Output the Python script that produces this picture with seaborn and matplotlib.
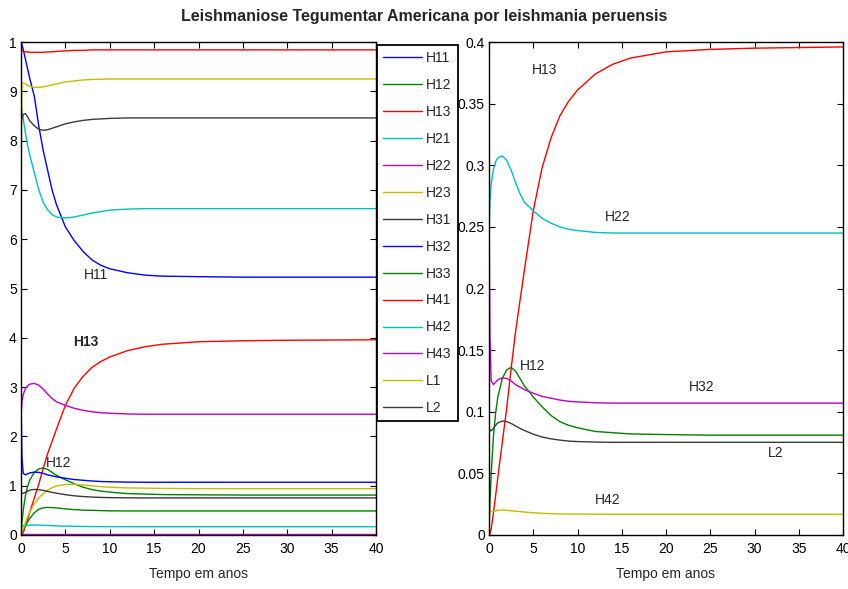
import numpy as np
import pandas as pd
import matplotlib
matplotlib.use("Agg")
import matplotlib.pyplot as plt
import seaborn as sns
from matplotlib import font_manager

# ---------------- data ----------------
times = [0, 0.1, 0.25, 0.5, 0.75, 1, 1.5, 2, 2.5, 3, 3.5, 4, 5, 6, 7, 8, 9, 10,
         12, 14, 16, 20, 25, 30, 40]

H11 = [1.0, 0.995, 0.985, 0.965, 0.945, 0.925, 0.89, 0.83, 0.78, 0.74, 0.70, 0.67,
       0.625, 0.597, 0.575, 0.558, 0.547, 0.54, 0.532, 0.527, 0.525, 0.524, 0.523, 0.523, 0.523]
H12 = [0, 0.025, 0.05, 0.08, 0.099, 0.112, 0.127, 0.134, 0.136, 0.133, 0.127, 0.121,
       0.112, 0.104, 0.097, 0.092, 0.089, 0.087, 0.084, 0.083, 0.082, 0.0815, 0.081, 0.081, 0.081]
H13 = [0, 0.001, 0.005, 0.018, 0.032, 0.047, 0.075, 0.103, 0.135, 0.165, 0.19, 0.215,
       0.263, 0.298, 0.322, 0.340, 0.352, 0.361, 0.374, 0.382, 0.387, 0.392, 0.394, 0.395, 0.396]
H21 = [0.87, 0.86, 0.845, 0.815, 0.79, 0.77, 0.735, 0.70, 0.675, 0.66, 0.65, 0.645,
       0.643, 0.645, 0.649, 0.653, 0.656, 0.659, 0.661, 0.662, 0.662, 0.662, 0.662, 0.662, 0.662]
H22 = [0.24, 0.27, 0.285, 0.297, 0.303, 0.306, 0.3075, 0.304, 0.296, 0.286, 0.277, 0.270,
       0.263, 0.257, 0.253, 0.250, 0.248, 0.247, 0.2455, 0.245, 0.245, 0.245, 0.245, 0.245, 0.245]
H23 = [0.68, 0.915, 0.917, 0.915, 0.912, 0.910, 0.908, 0.908, 0.909, 0.911, 0.913, 0.915,
       0.919, 0.921, 0.923, 0.924, 0.9245, 0.925, 0.925, 0.925, 0.925, 0.925, 0.925, 0.925, 0.925]
H31 = [0.83, 0.845, 0.853, 0.855, 0.848, 0.84, 0.83, 0.823, 0.821, 0.822, 0.825, 0.828,
       0.834, 0.838, 0.841, 0.843, 0.844, 0.845, 0.846, 0.846, 0.846, 0.846, 0.846, 0.846, 0.846]
H32 = [0.28, 0.16, 0.125, 0.122, 0.124, 0.126, 0.1275, 0.127, 0.125, 0.122, 0.120, 0.118,
       0.115, 0.1125, 0.111, 0.1095, 0.1085, 0.108, 0.1073, 0.107, 0.107, 0.107, 0.107, 0.107, 0.107]
H33 = [0, 0.005, 0.011, 0.019, 0.027, 0.034, 0.045, 0.052, 0.055, 0.056, 0.0555, 0.055,
       0.053, 0.0515, 0.0505, 0.050, 0.0495, 0.049, 0.0488, 0.0488, 0.0488, 0.0488, 0.0488, 0.0488, 0.0488]
H41 = [0.99, 0.982, 0.981, 0.980, 0.980, 0.979, 0.979, 0.979, 0.979, 0.980, 0.980, 0.981,
       0.982, 0.983, 0.983, 0.984, 0.984, 0.984, 0.984, 0.984, 0.984, 0.984, 0.984, 0.984, 0.984]
H42 = [0.030, 0.019, 0.0188, 0.019, 0.0195, 0.020, 0.0203, 0.020, 0.0197, 0.0193, 0.019, 0.0186,
       0.018, 0.0176, 0.0173, 0.0171, 0.017, 0.017, 0.0169, 0.0168, 0.0168, 0.0168, 0.0168, 0.0168, 0.0168]
H43 = [0.002, 0.002, 0.002, 0.002, 0.002, 0.002, 0.002, 0.002, 0.002, 0.002, 0.002, 0.002,
       0.002, 0.002, 0.002, 0.002, 0.002, 0.002, 0.002, 0.002, 0.002, 0.002, 0.002, 0.002, 0.002]
L1 = [0, 0.004, 0.012, 0.025, 0.037, 0.047, 0.063, 0.075, 0.084, 0.091, 0.096, 0.0995,
      0.1025, 0.103, 0.1015, 0.0995, 0.098, 0.097, 0.0955, 0.095, 0.0945, 0.094, 0.094, 0.094, 0.094]
L2 = [0.088, 0.085, 0.0845, 0.0865, 0.089, 0.091, 0.0925, 0.092, 0.0905, 0.0885, 0.0865, 0.0848,
      0.0818, 0.0795, 0.078, 0.077, 0.0762, 0.0758, 0.0754, 0.0752, 0.0752, 0.0752, 0.0752, 0.0752, 0.0752]

left_names = ["H11", "H12", "H13", "H21", "H22", "H23", "H31", "H32", "H33",
              "H41", "H42", "H43", "L1", "L2"]
left_series = [H11, H12, H13, H21, H22, H23, H31, H32, H33, H41, H42, H43, L1, L2]
right_names = ["H12", "H13", "H22", "H32", "H42", "L2"]
right_series = [H12, H13, H22, H32, H42, L2]

left_yticks = [0, 0.1, 0.2, 0.3, 0.4, 0.5, 0.6, 0.7, 0.8, 0.9, 1.0]
left_yticklabels = ["0", "1", "2", "3", "4", "5", "6", "7", "8", "9", "1"]
right_yticks = [0, 0.05, 0.1, 0.15, 0.2, 0.25, 0.3, 0.35, 0.4]
right_yticklabels = ["0", "0.05", "0.1", "0.15", "0.2", "0.25", "0.3", "0.35", "0.4"]
xticks = [0, 5, 10, 15, 20, 25, 30, 35, 40]

title = "Leishmaniose Tegumentar Americana por leishmania peruensis"
xlabel = "Tempo em anos"

# ---------------- style ----------------
mat = {"b": "#0000ff", "g": "#008000", "r": "#ff0000", "c": "#00bfbf",
       "m": "#bf00bf", "y": "#bfbf00", "k": "#3a3a3a"}
left_colors = [mat[c] for c in "bgrcmykbgrcmyk"]
right_colors = [mat[c] for c in "grcmyk"]

sns.set_theme(style="ticks")
names = {f.name for f in font_manager.fontManager.ttflist}
fam = "Liberation Sans Narrow" if "Liberation Sans Narrow" in names else "Liberation Sans"
plt.rcParams["font.family"] = [fam, "DejaVu Sans"]

FS = 10
fig = plt.figure(figsize=(8.48, 5.89), dpi=100)
W, H = 848, 589
axL = fig.add_axes([21 / W, 1 - 535 / H, 355 / W, 493 / H])
axR = fig.add_axes([489 / W, 1 - 535 / H, 354 / W, 493 / H])

for name, vals, col in zip(left_names, left_series, left_colors):
    sns.lineplot(x=times, y=vals, ax=axL, color=col, linewidth=1.0, label=name)
for name, vals, col in zip(right_names, right_series, right_colors):
    sns.lineplot(x=times, y=vals, ax=axR, color=col, linewidth=1.0, legend=False)

for ax in (axL, axR):
    ax.set_xlim(0, 40)
    ax.set_xticks(xticks)
    ax.set_xticklabels([str(x) for x in xticks], fontsize=FS)
    ax.tick_params(direction="in", length=4, width=0.8, top=True, right=True,
                   colors="black", labelsize=FS)
    ax.tick_params(axis="x", pad=5)
    ax.tick_params(axis="y", pad=3)
    for sp in ax.spines.values():
        sp.set_visible(True)
        sp.set_linewidth(1.0)
        sp.set_color("black")
    ax.set_xlabel(xlabel, fontsize=FS, labelpad=8)
    ax.set_ylabel("")
    ax.set_facecolor("white")

axL.set_ylim(0, 1)
axL.set_yticks(left_yticks)
axL.set_yticklabels(left_yticklabels, fontsize=FS)
axR.set_ylim(0, 0.4)
axR.set_yticks(right_yticks)
axR.set_yticklabels(right_yticklabels, fontsize=FS)

# annotations
axL.text(7.1, 0.527, "H11", fontsize=FS, va="center", ha="left")
axL.text(5.9, 0.391, "H13", fontsize=FS, va="center", ha="left", fontweight="bold")
axL.text(2.8, 0.146, "H12", fontsize=FS, va="center", ha="left")
axR.text(4.86, 0.377, "H13", fontsize=FS, va="center", ha="left")
axR.text(13.1, 0.258, "H22", fontsize=FS, va="center", ha="left")
axR.text(3.5, 0.137, "H12", fontsize=FS, va="center", ha="left")
axR.text(22.6, 0.120, "H32", fontsize=FS, va="center", ha="left")
axR.text(31.5, 0.0665, "L2", fontsize=FS, va="center", ha="left")
axR.text(12.0, 0.0284, "H42", fontsize=FS, va="center", ha="left")

leg = axL.legend(loc="upper left", bbox_to_anchor=(377 / W, 1 - 45 / H),
                 bbox_transform=fig.transFigure, borderaxespad=0, fontsize=FS,
                 frameon=True, fancybox=False, handlelength=2.8, handletextpad=0.3,
                 labelspacing=0.93, borderpad=0.45)
leg.get_frame().set_edgecolor("black")
leg.get_frame().set_linewidth(1.3)
leg.get_frame().set_alpha(1)
leg.set_zorder(10)

fig.text(424 / W, 1 - 16 / H, title, ha="center", va="center",
         fontsize=11.5, fontweight="bold")

fig.savefig("out.png", dpi=100, facecolor="white")
